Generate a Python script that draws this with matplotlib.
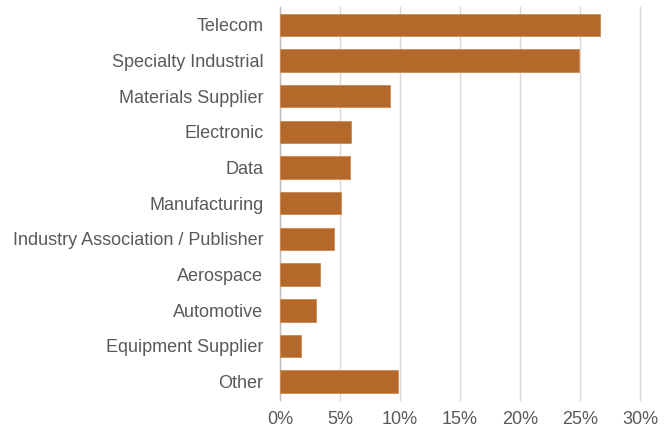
import matplotlib
matplotlib.use("Agg")
import matplotlib.pyplot as plt
from matplotlib.ticker import FuncFormatter, MultipleLocator

categories = ["Telecom", "Specialty Industrial", "Materials Supplier", "Electronic", "Data",
              "Manufacturing", "Industry Association / Publisher", "Aerospace", "Automotive",
              "Equipment Supplier", "Other"]
values = [26.7, 24.9, 9.2, 5.9, 5.8, 5.1, 4.5, 3.3, 3.0, 1.75, 9.8]

plt.rcParams['font.family'] = ['Liberation Sans', 'DejaVu Sans']

fig = plt.figure(figsize=(6.67, 4.28), dpi=100)
ax = fig.add_axes([280/667, 1 - 399.5/428, 360/667, (399.5 - 7)/428])

y = list(range(len(categories)))
ax.barh(y, values, height=0.63, color='#B4692A', edgecolor='#C98A55', linewidth=0.6, zorder=3)
ax.set_yticks(y)
ax.set_yticklabels(categories)
ax.set_ylim(len(categories) - 0.5, -0.5)
ax.set_xlim(0, 30)
ax.xaxis.set_major_locator(MultipleLocator(5))
ax.xaxis.set_major_formatter(FuncFormatter(lambda v, p: f"{int(round(v))}%"))

ax.grid(axis='x', color='#D9D9D9', linewidth=1.0, zorder=0)
for gl in ax.get_xgridlines():
    gl.set_clip_on(False)
for s in ['top', 'right', 'bottom']:
    ax.spines[s].set_visible(False)
ax.spines['left'].set_color('#BFBFBF')
ax.spines['left'].set_linewidth(1.0)
ax.tick_params(axis='both', length=0, labelsize=13, labelcolor='#595959')
ax.tick_params(axis='y', pad=12)
ax.tick_params(axis='x', pad=8)

fig.savefig("out.png", dpi=100, facecolor='white')
